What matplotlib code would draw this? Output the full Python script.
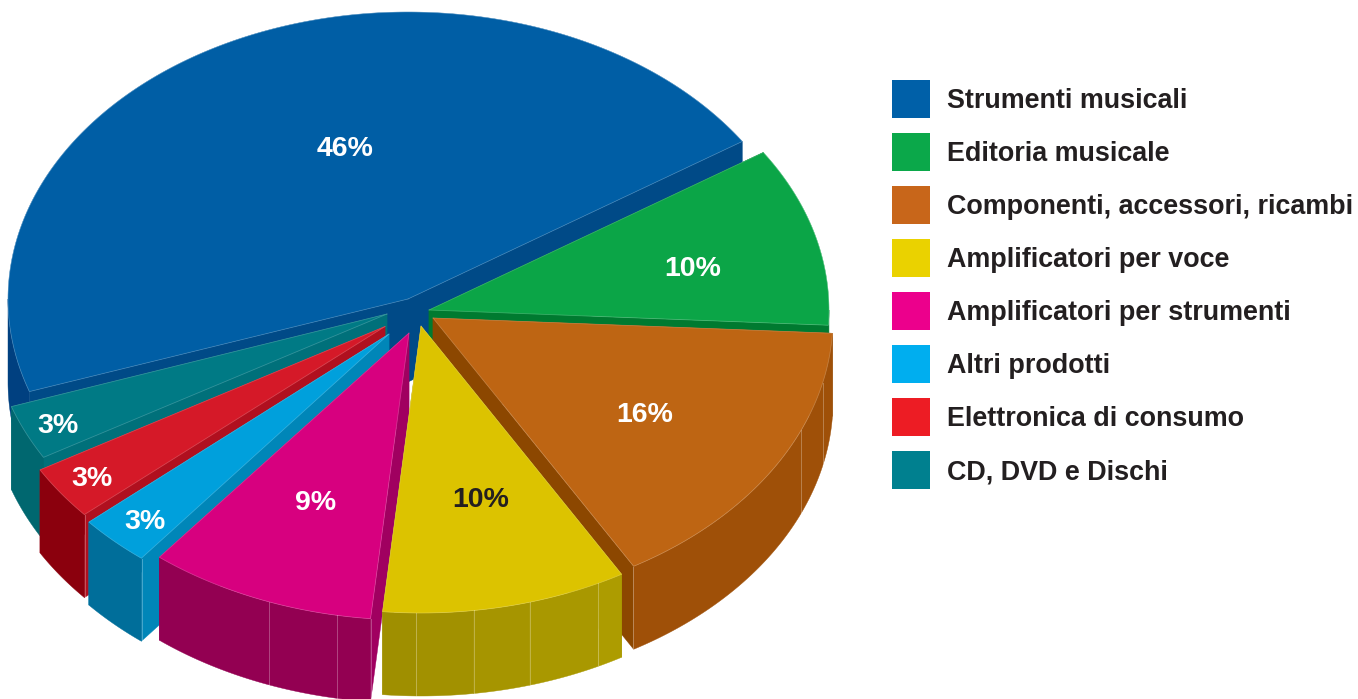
import numpy as np
import matplotlib
matplotlib.use("Agg")
import matplotlib.pyplot as plt

# legend order
categories = ["Strumenti musicali", "Editoria musicale", "Componenti, accessori, ricambi",
              "Amplificatori per voce", "Amplificatori per strumenti", "Altri prodotti",
              "Elettronica di consumo", "CD, DVD e Dischi"]
shares = [46.0, 10.1, 15.8, 9.9, 9.2, 2.9, 3.05, 3.1]

legend_colors = ["#0060A8", "#0BA84A", "#C8661A", "#EAD200", "#EC008C", "#00AEEF", "#ED1C24", "#00808F"]
top_colors = ["#005EA5", "#0BA547", "#BE6513", "#DCC300", "#D7007F", "#00A0DC", "#D51928", "#007A85"]
wall_colors = ["#004080", "#007A30", "#9F5008", "#A39300", "#930052", "#006E9A", "#8B000D", "#00676F"]
cut_colors = ["#004A87", "#007A30", "#8C4700", "#A39300", "#A00060", "#0086B8", "#B0101F", "#00707A"]
label_colors = ["white", "white", "white", "#231F20", "white", "white", "white", "white"]

# slice layout (pixels), same order as categories
apex_x = [408, 429, 433, 421, 409, 391, 386.5, 390]
apex_y = [299, 310, 318, 326, 333, 334, 326.5, 314]
# the thin tips are cut off by a vertical edge near the centre
tip_x = [None, None, None, None, None, 389, 385, 387]
label_x = [345, 693, 645, 481, 316, 145, 92, 58]
label_y = [149, 269, 415, 500, 503, 522, 479, 426]

# going round the pie counter clockwise from the start angle
pie_order = [0, 7, 6, 5, 4, 3, 2, 1]
# painted back to front
draw_order = [0, 1, 7, 6, 5, 2, 4, 3]
start_angle = 33.3
rx, ry = 400.0, 287.0
depth = 83.0

# seams on the outer walls, degrees
seams = {2: [300, 337, 347], 3: [269.3, 277.6, 285.8, 296.3], 4: [249.5, 259.6, 264.5], 5: [231.5], 6: [221]}
# yellow wall gets a bit lighter facet by facet
yellow_facets = ["#9F8F00", "#A29100", "#A69500", "#A99800", "#AD9C00"]

fig = plt.figure(figsize=(13.58, 6.99), dpi=100)
ax = fig.add_axes([0, 0, 1, 1])
ax.set_xlim(0, 1358)
ax.set_ylim(699, 0)
ax.axis("off")

total = sum(shares)
angles = {}
a = start_angle
for i in pie_order:
    angles[i] = (a, a + shares[i] / total * 360)
    a = angles[i][1]


def rim(i, t0, t1):
    t = np.radians(np.linspace(t0, t1, max(int(abs(t1 - t0) * 2), 2)))
    return apex_x[i] + rx * np.cos(t), apex_y[i] - ry * np.sin(t)


def draw_wall(i, t0, t1, color):
    # only the part that faces the viewer
    t0, t1 = max(t0, 180), min(t1, 360)
    if t1 <= t0:
        return
    x, y = rim(i, t0, t1)
    ax.fill(np.r_[x, x[::-1]], np.r_[y, y[::-1] + depth], color=color, lw=0.3)


def cut_tip(i, xs):
    if tip_x[i] is None:
        return xs
    return np.minimum(xs, tip_x[i])


for i in draw_order:
    t0, t1 = angles[i]
    # the two cut faces
    for t in (t0, t1):
        x, y = rim(i, t, t)
        xs = np.array([apex_x[i], x[0], x[0], apex_x[i]])
        ys = [apex_y[i], y[0], y[0] + depth, apex_y[i] + depth]
        ax.fill(cut_tip(i, xs), ys, color=cut_colors[i], lw=0.3)
    # outer wall
    if i == 3:
        edges = [t0] + seams[3] + [t1]
        for k in range(len(edges) - 1):
            draw_wall(i, edges[k], edges[k + 1], yellow_facets[k])
    else:
        draw_wall(i, t0, t1, wall_colors[i])
    for s in seams.get(i, []):
        x, y = rim(i, s, s)
        ax.plot([x[0], x[0]], [y[0], y[0] + depth], color="white", alpha=0.28, lw=0.7)
    # top face
    x, y = rim(i, t0, t1)
    xs = cut_tip(i, np.r_[apex_x[i], x])
    ys = np.r_[apex_y[i], y]
    ax.fill(xs, ys, color=top_colors[i], lw=0.3)
    ax.plot(np.r_[xs, xs[0]], np.r_[ys, ys[0]], color="white", alpha=0.2, lw=0.6)

font = ["Liberation Sans", "DejaVu Sans"]
for i in range(len(categories)):
    ax.text(label_x[i], label_y[i], f"{round(shares[i])}%", color=label_colors[i], fontsize=20.5,
            fontweight="bold", family=font, ha="center", va="center")

# legend
for i, name in enumerate(categories):
    ax.bar(911, 38, width=38, bottom=80 + 53 * i, color=legend_colors[i])
    ax.text(947, 101 + 53 * i, name, color="#231F20", fontsize=19.35, fontweight="bold",
            family=font, ha="left", va="center")

fig.savefig("out.png", dpi=100)
